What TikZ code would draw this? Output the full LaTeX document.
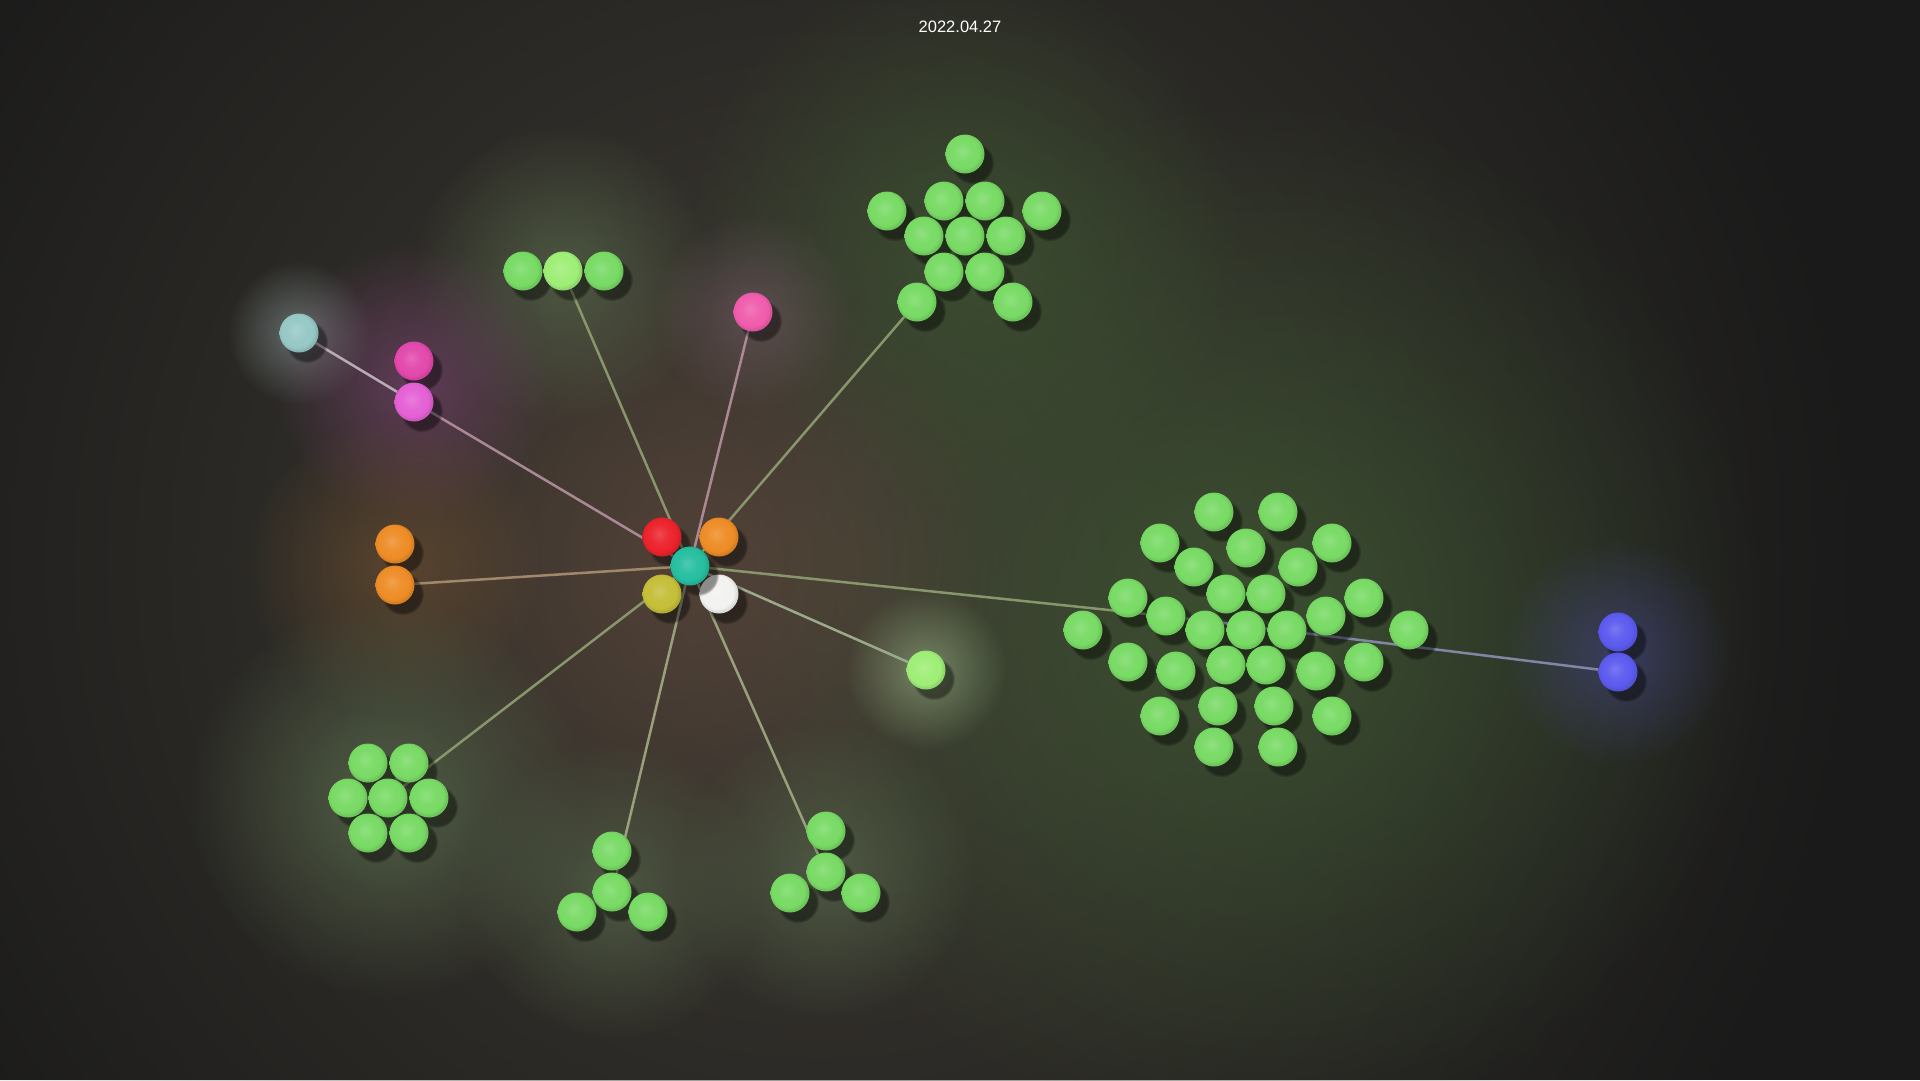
\documentclass[tikz,border=0pt]{standalone}
\usepackage{fontspec}
\usepackage{tikz}
\usetikzlibrary{shadows}
\usetikzlibrary{fadings}
\newfontfamily\datefont{Liberation Sans}
\definecolor{bgcol}   {RGB}{26,26,26}
\definecolor{leaf}    {RGB}{120,218,100}
\definecolor{leaflt}  {RGB}{158,238,118}
\definecolor{tealb}   {RGB}{38,190,160}
\definecolor{redb}    {RGB}{236,34,44}
\definecolor{orangeb} {RGB}{238,140,38}
\definecolor{yellowb} {RGB}{196,190,56}
\definecolor{whiteb}  {RGB}{242,242,240}
\definecolor{pinkb}   {RGB}{240,92,172}
\definecolor{magb}    {RGB}{226,72,172}
\definecolor{violb}   {RGB}{228,96,212}
\definecolor{greyb}   {RGB}{150,200,198}
\definecolor{blueb}   {RGB}{92,90,238}
\definecolor{ballc}   {RGB}{0,0,0}
% link colours
\definecolor{lgreen}  {RGB}{136,150,108}
\definecolor{lgreen2} {RGB}{152,160,124}
\definecolor{lpink}   {RGB}{170,136,150}
\definecolor{lpale}   {RGB}{186,170,184}
\definecolor{lorange} {RGB}{162,136,106}
\definecolor{lblue}   {RGB}{128,134,164}
\definecolor{llight}  {RGB}{156,170,140}
% glow colours
\definecolor{gwarm}   {RGB}{64,60,52}
\definecolor{gleaf}   {RGB}{62,88,50}
\definecolor{gbrown}  {RGB}{92,70,58}
\definecolor{gleaflt} {RGB}{96,116,82}
\definecolor{gpink}   {RGB}{130,100,118}
\definecolor{gpale}   {RGB}{170,190,190}
\definecolor{gmag}    {RGB}{130,70,120}
\definecolor{gorange} {RGB}{130,90,50}
\definecolor{glight}  {RGB}{170,200,150}
\definecolor{gblue}   {RGB}{80,80,170}
\pgfdeclarelayer{glow}
\pgfdeclarelayer{edge}
\pgfsetlayers{glow,edge,main}
\tikzfading[name=glowfade, inner color=transparent!0, outer color=transparent!100]
\pgfdeclareradialshading[ballc]{softball}{\pgfpoint{-4bp}{4bp}}{%
  color(0bp)=(ballc!82!white); color(12bp)=(ballc!96!white);
  color(21bp)=(ballc); color(25bp)=(ballc!90!black); color(50bp)=(ballc!90!black)}
\tikzset{
    ball/.style={circle, minimum size=39pt, inner sep=0pt,
      /utils/exec={\colorlet{ballc}{#1}}, shade, shading=softball,
      circular drop shadow={shadow xshift=7pt, shadow yshift=-8pt,
        shadow scale=1.1, opacity=.42, fill=black}},
    link/.style={draw=#1, line width=2.5pt},
    glow/.style={fill=#1, path fading=glowfade}
  }

\begin{document}
\begin{tikzpicture}[x=1pt, y=-1pt]
 \useasboundingbox (0,0) rectangle (1920,1080);
 % centre group
     \node[ball=redb]    (cr)  at (662,537) {};
     \node[ball=orangeb] (co)  at (719,537) {};
     \node[ball=yellowb] (cy)  at (662,594) {};
     \node[ball=whiteb]  (cw)  at (719,594) {};
     \node[ball=tealb]   (hub) at (690,566) {};
 % small groups
     \node[ball=greyb]   (gy)  at (299,333) {};
     \node[ball=magb]    (m1)  at (414,361) {};
     \node[ball=violb]   (m2)  at (414,402) {};
     \node[ball=pinkb]   (pk)  at (753,312) {};
     \node[ball=orangeb] (o1)  at (395,544) {};
     \node[ball=orangeb] (o2)  at (395,585) {};
     \node[ball=leaflt]  (lg)  at (926,670) {};
     \node[ball=blueb]   (u1)  at (1618,632) {};
     \node[ball=blueb]   (u2)  at (1618,672) {};
 % top row
     \node[ball=leaf]    (t1)  at (523,271) {};
     \node[ball=leaflt]  (t2)  at (563,271) {};
     \node[ball=leaf]    (t3)  at (604,271) {};
 % star
     \foreach \n/\x/\y in {s1/965/154, s2/944/201, s3/985/201, s4/887/211,
                           s5/1042/211, s6/924/236, s7/965/236, s8/1006/236,
                           s9/944/272, s10/985/272, s11/917/302, s12/1013/302}
       \node[ball=leaf] (\n) at (\x,\y) {};
 % hexagon
     \foreach \n/\x/\y in {h1/368/763, h2/409/763, h3/348/798, h4/388/798,
                           h5/429/798, h6/368/833, h7/409/833}
       \node[ball=leaf] (\n) at (\x,\y) {};
 % the two triangles
     \foreach \n/\x/\y in {b1/612/851, b2/612/892, b3/577/912, b4/648/912,
                           c1/826/831, c2/826/872, c3/790/893, c4/861/893}
       \node[ball=leaf] (\n) at (\x,\y) {};
 % large group
     \foreach \n/\x/\y in {
         g1/1214/512, g2/1278/512, g3/1160/543, g4/1246/548, g5/1332/543,
         g6/1194/567, g7/1298/567, g8/1128/598, g9/1226/594, g10/1266/594,
         g11/1364/598, g12/1083/630, g13/1166/616, g14/1205/630, g15/1246/630,
         g16/1287/630, g17/1326/616, g18/1409/630, g19/1128/662, g20/1176/671,
         g21/1226/665, g22/1266/665, g23/1316/671, g24/1364/662, g25/1160/716,
         g26/1218/706, g27/1274/706, g28/1332/716, g29/1214/747, g30/1278/747}
       \node[ball=leaf] (\n) at (\x,\y) {};
 % date
     \node[font=\datefont\fontsize{16.5}{20}\selectfont, text=white] (date) at (960,27) {2022.04.27};

 \begin{pgfonlayer}{edge}
     \draw[link=lgreen]  (hub) -- (t2);
     \draw[link=lpink]   (hub) -- (pk);
     \draw[link=lgreen]  (hub) -- (s11);
     \draw[link=lpink]   (hub) -- (m2);
     \draw[link=lpale]   (m2) -- (gy);
     \draw[link=lorange] (hub) -- (o2);
     \draw[link=lgreen]  (hub) -- (h4);
     \draw[link=lgreen2] (hub) -- (b2);
     \draw[link=lgreen2] (hub) -- (c2);
     \draw[link=llight]  (hub) -- (lg);
     \draw[link=lgreen]  (hub) -- (g13);
     \draw[link=lblue]   (g13) -- (u2);
 \end{pgfonlayer}

 \begin{pgfonlayer}{glow}
     \fill[bgcol] (0,0) rectangle (1920,1080);
     \fill[glow=gwarm] (820,560) circle (1050);
     \fill[glow=gleaf, fill opacity=.8] (1250,620) circle (520);
     \fill[glow=gleaf, fill opacity=.7] (965,240) circle (280);
     \fill[glow=gbrown, fill opacity=.7] (690,566) circle (320);
     \fill[glow=gleaflt, fill opacity=.6] (563,275) circle (150);
     \fill[glow=gpink, fill opacity=.45] (753,312) circle (100);
     \fill[glow=gpale, fill opacity=.45] (299,333) circle (72);
     \fill[glow=gmag, fill opacity=.6] (414,382) circle (140);
     \fill[glow=gorange, fill opacity=.5] (395,565) circle (150);
     \fill[glow=gleaflt, fill opacity=.7] (388,798) circle (200);
     \fill[glow=gleaflt, fill opacity=.6] (612,890) circle (150);
     \fill[glow=gleaflt, fill opacity=.6] (826,870) circle (150);
     \fill[glow=glight, fill opacity=.5] (926,670) circle (80);
     \fill[glow=gblue, fill opacity=.45] (1618,652) circle (115);
 \end{pgfonlayer}
\end{tikzpicture}
\end{document}
